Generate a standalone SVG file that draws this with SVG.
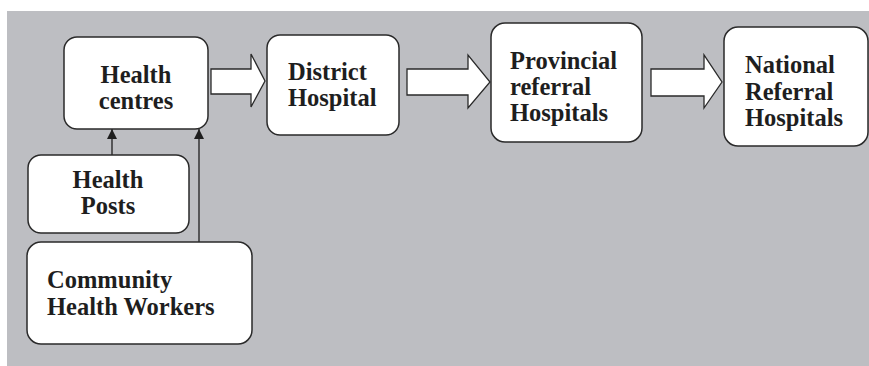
<svg xmlns="http://www.w3.org/2000/svg" width="869" height="366" viewBox="0 0 869 366">
<defs>
<style>
.box{fill:#ffffff;stroke:#2a2a2a;stroke-width:1.5}
.big{fill:#ffffff;stroke:#2a2a2a;stroke-width:1.3;stroke-linejoin:miter}
.t{font-family:"Liberation Serif","Times New Roman",serif;font-weight:bold;font-size:24.5px;fill:#1e1e1e}
.c{text-anchor:middle}
.ln{stroke:#1e1e1e;stroke-width:1.3;fill:none}
</style>
<marker id="ah" viewBox="0 0 10 10" refX="10" refY="5" markerWidth="10" markerHeight="10" markerUnits="userSpaceOnUse" orient="auto">
<path d="M0,0 L10,5 L0,10 z" fill="#1e1e1e"/>
</marker>
</defs>
<rect x="0" y="0" width="869" height="366" fill="#ffffff"/>
<rect x="7" y="11" width="862" height="355" fill="#bdbec2"/>
<g id="connectors">
<path class="big" d="M211,69 H251 V54 L265,81 L251,107 V94 H211 Z"/>
<path class="big" d="M407,69 H468 V55 L490,82 L468,108 V95 H407 Z"/>
<path class="big" d="M651,69 H704 V55 L722,82 L704,108 V96 H651 Z"/>
<line class="ln" x1="112" y1="155" x2="112" y2="129" marker-end="url(#ah)"/>
<line class="ln" x1="199" y1="242" x2="199" y2="129" marker-end="url(#ah)"/>
</g>
<g id="health-centres">
<rect class="box" x="64" y="37" width="144" height="92" rx="13"/>
<text class="t c" x="136" y="83">Health</text>
<text class="t c" x="136" y="109">centres</text>
</g>
<g id="district-hospital">
<rect class="box" x="267" y="35" width="132" height="100" rx="13"/>
<text class="t" x="288" y="80">District</text>
<text class="t" x="288" y="106">Hospital</text>
</g>
<g id="provincial">
<rect class="box" x="491" y="23" width="151" height="119" rx="14"/>
<text class="t" x="510" y="69">Provincial</text>
<text class="t" x="510" y="95">referral</text>
<text class="t" x="510" y="121">Hospitals</text>
</g>
<g id="national">
<rect class="box" x="724" y="27" width="144" height="119" rx="14"/>
<text class="t" x="745" y="73">National</text>
<text class="t" x="745" y="100">Referral</text>
<text class="t" x="745" y="126">Hospitals</text>
</g>
<g id="health-posts">
<rect class="box" x="28" y="155" width="161" height="78" rx="13"/>
<text class="t c" x="108" y="188">Health</text>
<text class="t c" x="108" y="214">Posts</text>
</g>
<g id="community">
<rect class="box" x="27" y="242" width="225" height="102" rx="14"/>
<text class="t" x="47" y="288">Community</text>
<text class="t" x="47" y="315">Health Workers</text>
</g>
</svg>
